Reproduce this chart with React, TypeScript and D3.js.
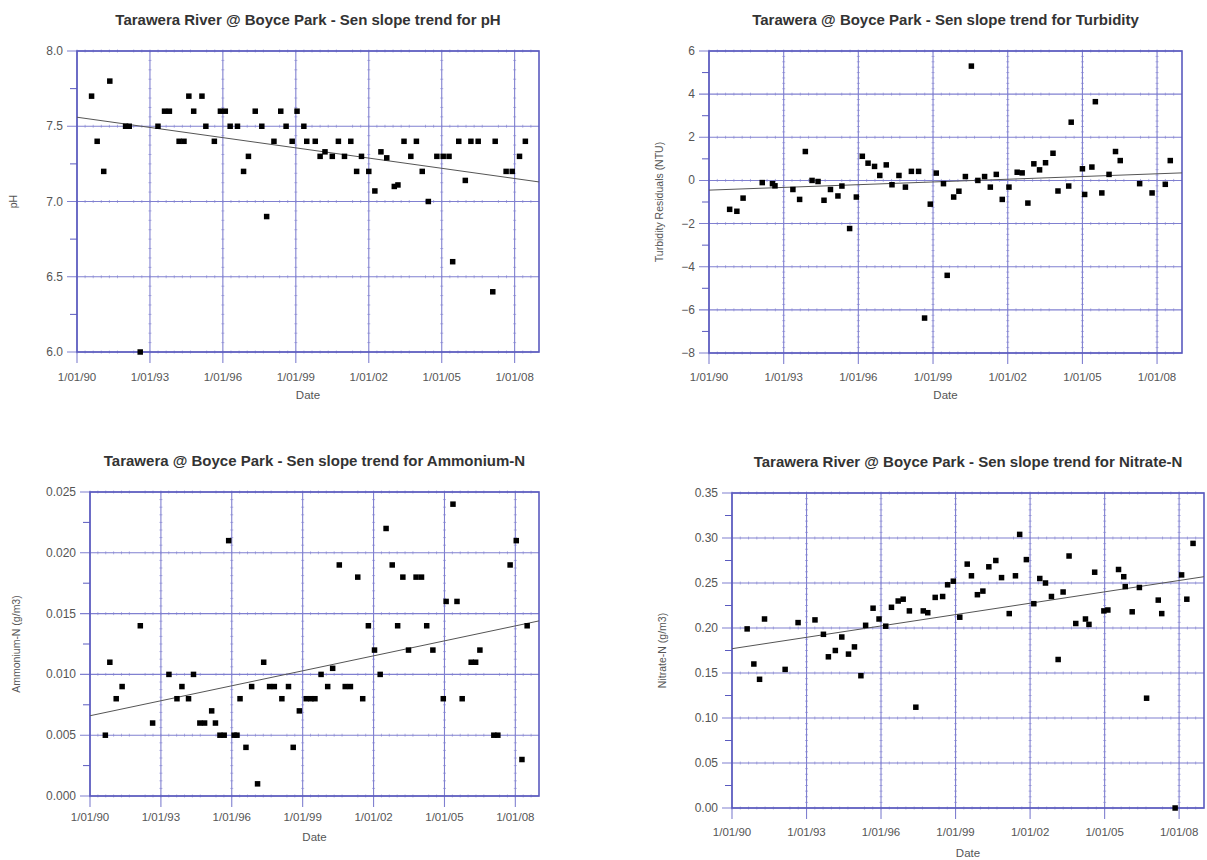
import React, { useRef, useEffect } from "react";
import * as d3 from "d3";

// sample dates as decimal years
const phDates = [1990.6, 1990.83, 1991.1, 1991.35, 1992.0, 1992.15, 1992.6, 1993.33, 1993.6, 1993.8, 1994.2, 1994.4, 1994.6, 1994.8, 1995.14, 1995.3, 1995.65, 1995.9, 1996.1, 1996.3, 1996.6, 1996.85, 1997.05, 1997.33, 1997.6, 1997.8, 1998.1, 1998.38, 1998.6, 1998.85, 1999.05, 1999.33, 1999.45, 1999.8, 2000.0, 2000.2, 2000.5, 2000.75, 2001.0, 2001.26, 2001.5, 2001.7, 2002.0, 2002.25, 2002.5, 2002.74, 2003.05, 2003.2, 2003.45, 2003.73, 2003.96, 2004.2, 2004.45, 2004.8, 2005.06, 2005.3, 2005.45, 2005.7, 2005.97, 2006.2, 2006.5, 2007.1, 2007.2, 2007.65, 2007.9, 2008.2, 2008.44];
const phValues = [7.7, 7.4, 7.2, 7.8, 7.5, 7.5, 6.0, 7.5, 7.6, 7.6, 7.4, 7.4, 7.7, 7.6, 7.7, 7.5, 7.4, 7.6, 7.6, 7.5, 7.5, 7.2, 7.3, 7.6, 7.5, 6.9, 7.4, 7.6, 7.5, 7.4, 7.6, 7.5, 7.4, 7.4, 7.3, 7.33, 7.3, 7.4, 7.3, 7.4, 7.2, 7.3, 7.2, 7.07, 7.33, 7.29, 7.1, 7.11, 7.4, 7.3, 7.4, 7.2, 7.0, 7.3, 7.3, 7.3, 6.6, 7.4, 7.14, 7.4, 7.4, 6.4, 7.4, 7.2, 7.2, 7.3, 7.4];
const phTrend = [7.56, 7.13];

const turbDates = [1990.83, 1991.12, 1991.37, 1992.14, 1992.55, 1992.65, 1993.37, 1993.64, 1993.87, 1994.14, 1994.38, 1994.62, 1994.88, 1995.18, 1995.34, 1995.65, 1995.92, 1996.16, 1996.39, 1996.65, 1996.86, 1997.12, 1997.35, 1997.63, 1997.89, 1998.13, 1998.42, 1998.66, 1998.89, 1999.13, 1999.42, 1999.57, 1999.83, 2000.04, 2000.3, 2000.54, 2000.8, 2001.07, 2001.3, 2001.54, 2001.78, 2002.05, 2002.38, 2002.58, 2002.81, 2003.05, 2003.28, 2003.52, 2003.82, 2004.02, 2004.45, 2004.55, 2005.0, 2005.09, 2005.38, 2005.52, 2005.78, 2006.07, 2006.33, 2006.52, 2007.3, 2007.8, 2008.33, 2008.53];
const turbValues = [-1.34, -1.43, -0.82, -0.1, -0.15, -0.25, -0.42, -0.88, 1.34, 0.0, -0.05, -0.92, -0.42, -0.72, -0.26, -2.23, -0.77, 1.12, 0.8, 0.65, 0.23, 0.72, -0.2, 0.23, -0.31, 0.42, 0.42, -6.38, -1.1, 0.34, -0.15, -4.4, -0.77, -0.5, 0.18, 5.3, 0.0, 0.18, -0.31, 0.28, -0.88, -0.31, 0.38, 0.35, -1.05, 0.77, 0.49, 0.82, 1.26, -0.49, -0.26, 2.7, 0.54, -0.65, 0.62, 3.65, -0.58, 0.28, 1.34, 0.92, -0.15, -0.58, -0.18, 0.92];
const turbTrend = [-0.45, 0.35];

const nh4Dates = [1990.65, 1990.84, 1991.11, 1991.36, 1992.13, 1992.65, 1993.34, 1993.68, 1993.89, 1994.17, 1994.38, 1994.65, 1994.85, 1995.15, 1995.31, 1995.5, 1995.68, 1995.87, 1996.1, 1996.22, 1996.35, 1996.6, 1996.84, 1997.09, 1997.35, 1997.6, 1997.8, 1998.12, 1998.4, 1998.6, 1998.86, 1999.15, 1999.35, 1999.52, 1999.78, 2000.06, 2000.27, 2000.55, 2000.8, 2001.02, 2001.33, 2001.54, 2001.78, 2002.04, 2002.28, 2002.53, 2002.79, 2003.02, 2003.24, 2003.48, 2003.8, 2004.03, 2004.25, 2004.51, 2004.95, 2005.07, 2005.36, 2005.53, 2005.75, 2006.13, 2006.32, 2006.5, 2007.09, 2007.26, 2007.78, 2008.04, 2008.28, 2008.5];
const nh4Values = [0.005, 0.011, 0.008, 0.009, 0.014, 0.006, 0.010, 0.008, 0.009, 0.008, 0.010, 0.006, 0.006, 0.007, 0.006, 0.005, 0.005, 0.021, 0.005, 0.005, 0.008, 0.004, 0.009, 0.001, 0.011, 0.009, 0.009, 0.008, 0.009, 0.004, 0.007, 0.008, 0.008, 0.008, 0.010, 0.009, 0.0105, 0.019, 0.009, 0.009, 0.018, 0.008, 0.014, 0.012, 0.010, 0.022, 0.019, 0.014, 0.018, 0.012, 0.018, 0.018, 0.014, 0.012, 0.008, 0.016, 0.024, 0.016, 0.008, 0.011, 0.011, 0.012, 0.005, 0.005, 0.019, 0.021, 0.003, 0.014];
const nh4Trend = [0.0066, 0.0144];

const no3Dates = [1990.61, 1990.88, 1991.11, 1991.31, 1992.14, 1992.66, 1993.34, 1993.68, 1993.88, 1994.16, 1994.42, 1994.69, 1994.93, 1995.19, 1995.38, 1995.68, 1995.92, 1996.19, 1996.42, 1996.69, 1996.89, 1997.14, 1997.4, 1997.7, 1997.88, 1998.18, 1998.48, 1998.68, 1998.91, 1999.17, 1999.47, 1999.64, 1999.88, 2000.1, 2000.34, 2000.62, 2000.85, 2001.16, 2001.41, 2001.58, 2001.85, 2002.15, 2002.39, 2002.62, 2002.86, 2003.13, 2003.33, 2003.57, 2003.84, 2004.23, 2004.37, 2004.6, 2004.97, 2005.13, 2005.56, 2005.77, 2005.83, 2006.11, 2006.4, 2006.69, 2007.16, 2007.3, 2007.84, 2008.1, 2008.31, 2008.56];
const no3Values = [0.199, 0.160, 0.143, 0.210, 0.154, 0.206, 0.209, 0.193, 0.168, 0.175, 0.190, 0.171, 0.179, 0.147, 0.203, 0.222, 0.210, 0.202, 0.223, 0.230, 0.232, 0.219, 0.112, 0.219, 0.217, 0.234, 0.235, 0.248, 0.252, 0.212, 0.271, 0.258, 0.237, 0.241, 0.268, 0.275, 0.256, 0.216, 0.258, 0.304, 0.276, 0.227, 0.255, 0.250, 0.235, 0.165, 0.240, 0.280, 0.205, 0.210, 0.204, 0.262, 0.219, 0.220, 0.265, 0.257, 0.246, 0.218, 0.245, 0.122, 0.231, 0.216, 0.000, 0.259, 0.232, 0.294];
const no3Trend = [0.177, 0.257];

const xTickYears = [1990, 1993, 1996, 1999, 2002, 2005, 2008];

const startDate = new Date(1990, 0, 1);
const endDate = new Date(2009, 0, 1);

const yearToDate = (v) => {
  const yr = Math.floor(v);
  const a = new Date(yr, 0, 1).getTime();
  const b = new Date(yr + 1, 0, 1).getTime();
  return new Date(a + (v - yr) * (b - a));
};

const panels = [
  {
    title: "Tarawera River @ Boyce Park - Sen slope trend for pH",
    yLabel: "pH", dates: phDates, values: phValues, trend: phTrend,
    yMin: 6, yMax: 8, yStep: 0.5, yFormat: ".1f",
    left: 77, right: 539, top: 51, bottom: 352, yLabelX: 13, tickDy: 29, dateDy: 47, titleY: 25,
  },
  {
    title: "Tarawera @ Boyce Park - Sen slope trend for Turbidity",
    yLabel: "Turbidity Residuals (NTU)", dates: turbDates, values: turbValues, trend: turbTrend,
    yMin: -8, yMax: 6, yStep: 2, yFormat: "d",
    left: 709, right: 1182, top: 51, bottom: 353, yLabelX: 659, tickDy: 28, dateDy: 46, titleY: 25,
  },
  {
    title: "Tarawera @ Boyce Park - Sen slope trend for Ammonium-N",
    yLabel: "Ammonium-N (g/m3)", dates: nh4Dates, values: nh4Values, trend: nh4Trend,
    yMin: 0, yMax: 0.025, yStep: 0.005, yFormat: ".3f",
    left: 90, right: 539, top: 492, bottom: 796, yLabelX: 16, tickDy: 25, dateDy: 45, titleY: 466,
  },
  {
    title: "Tarawera River @ Boyce Park - Sen slope trend for Nitrate-N",
    yLabel: "Nitrate-N (g/m3)", dates: no3Dates, values: no3Values, trend: no3Trend,
    yMin: 0, yMax: 0.35, yStep: 0.05, yFormat: ".2f",
    left: 732, right: 1204, top: 493, bottom: 808, yLabelX: 662, tickDy: 28, dateDy: 49, titleY: 467,
  },
];

const gridColor = "#8080d0";
const axisColor = "#5a5abf";
const fontFamily = "'Liberation Sans', Arial, sans-serif";

function drawPanel(svg, p) {
  const g = svg.append("g");
  const x = d3.scaleTime().domain([startDate, endDate]).range([p.left, p.right]);
  const y = d3.scaleLinear().domain([p.yMin, p.yMax]).range([p.bottom, p.top]);
  const n = Math.round((p.yMax - p.yMin) / p.yStep);
  const yMajor = d3.range(0, n + 1).map((i) => p.yMin + i * p.yStep);
  const yMinor = d3.range(0, n).map((i) => p.yMin + (i + 0.5) * p.yStep);
  const xMajor = xTickYears.map((yr) => new Date(yr, 0, 1));
  const fmtY = d3.format(p.yFormat);
  const fmtX = d3.timeFormat("%-d/%m/%y");

  // small marks along the gridlines
  const subYears = d3.range(0, 19 * 3).map((i) => 1990 + i / 3).filter((v) => Math.abs(v - Math.round(v / 3) * 3) > 0.01);
  const subY = d3.range(1, n * 8).map((i) => p.yMin + (i * p.yStep) / 8).filter((_, i) => (i + 1) % 8 !== 0);

  yMajor.forEach((v) => {
    g.selectAll(null)
      .data(subYears)
      .join("line")
      .attr("x1", (d) => x(yearToDate(d)))
      .attr("x2", (d) => x(yearToDate(d)))
      .attr("y1", y(v) - 1.5)
      .attr("y2", y(v) + 1.5)
      .attr("stroke", gridColor)
      .attr("stroke-opacity", 0.6);
  });
  xMajor.slice(1).forEach((d0) => {
    g.selectAll(null)
      .data(subY)
      .join("line")
      .attr("x1", x(d0) - 1.5)
      .attr("x2", x(d0) + 1.5)
      .attr("y1", (d) => y(d))
      .attr("y2", (d) => y(d))
      .attr("stroke", gridColor)
      .attr("stroke-opacity", 0.6);
  });

  // horizontal gridlines, extending left as ticks
  g.selectAll(null)
    .data(yMajor)
    .join("line")
    .attr("x1", p.left - 10)
    .attr("x2", p.right)
    .attr("y1", (d) => y(d))
    .attr("y2", (d) => y(d))
    .attr("stroke", gridColor)
    .attr("stroke-width", 1.1);

  // vertical gridlines, extending down as ticks
  g.selectAll(null)
    .data(xMajor)
    .join("line")
    .attr("x1", (d) => x(d))
    .attr("x2", (d) => x(d))
    .attr("y1", p.top)
    .attr("y2", p.bottom + 11)
    .attr("stroke", gridColor)
    .attr("stroke-width", 1.1);

  // minor y ticks
  g.selectAll(null)
    .data(yMinor)
    .join("line")
    .attr("x1", p.left - 7)
    .attr("x2", p.left)
    .attr("y1", (d) => y(d))
    .attr("y2", (d) => y(d))
    .attr("stroke", axisColor);

  // frame
  g.append("rect")
    .attr("x", p.left)
    .attr("y", p.top)
    .attr("width", p.right - p.left)
    .attr("height", p.bottom - p.top)
    .attr("fill", "none")
    .attr("stroke", axisColor)
    .attr("stroke-width", 1.6);

  // tick labels
  g.selectAll(null)
    .data(yMajor)
    .join("text")
    .attr("x", p.left - 14)
    .attr("y", (d) => y(d) + 4)
    .attr("text-anchor", "end")
    .attr("font-size", 12)
    .attr("fill", "#555")
    .text((d) => fmtY(d));

  g.selectAll(null)
    .data(xMajor)
    .join("text")
    .attr("x", (d) => x(d))
    .attr("y", p.bottom + p.tickDy)
    .attr("text-anchor", "middle")
    .attr("font-size", 11.5)
    .attr("fill", "#555")
    .text((d) => fmtX(d));

  // trend line
  const line = d3.line().x((d) => x(d[0])).y((d) => y(d[1]));
  g.append("path")
    .attr("d", line([[startDate, p.trend[0]], [endDate, p.trend[1]]]))
    .attr("fill", "none")
    .attr("stroke", "#555")
    .attr("stroke-width", 1);

  // points
  const pts = p.dates.map((d, i) => [yearToDate(d), p.values[i]]);
  g.selectAll(null)
    .data(pts)
    .join("rect")
    .attr("x", (d) => x(d[0]) - 2.75)
    .attr("y", (d) => y(d[1]) - 2.75)
    .attr("width", 5.5)
    .attr("height", 5.5)
    .attr("fill", "#000");

  // titles
  g.append("text")
    .attr("x", (p.left + p.right) / 2)
    .attr("y", p.titleY)
    .attr("text-anchor", "middle")
    .attr("font-size", 15)
    .attr("font-weight", "bold")
    .attr("fill", "#333")
    .text(p.title);

  g.append("text")
    .attr("x", (p.left + p.right) / 2)
    .attr("y", p.bottom + p.dateDy)
    .attr("text-anchor", "middle")
    .attr("font-size", 11.5)
    .attr("fill", "#555")
    .text("Date");

  const cy = (p.top + p.bottom) / 2;
  g.append("text")
    .attr("transform", `translate(${p.yLabelX},${cy}) rotate(-90)`)
    .attr("text-anchor", "middle")
    .attr("dy", "0.35em")
    .attr("font-size", 10.5)
    .attr("fill", "#555")
    .text(p.yLabel);
}

const App = () => {
  const svgRef = useRef(null);

  useEffect(() => {
    const svg = d3.select(svgRef.current);
    svg.selectAll("*").remove();
    svg.append("rect").attr("width", 1207).attr("height", 860).attr("fill", "#fff");
    panels.forEach((p) => drawPanel(svg, p));
  }, []);

  return (
    <div style={{ position: "absolute", left: 0, top: 0 }}>
      <svg ref={svgRef} width={1207} height={860} style={{ display: "block", fontFamily }}></svg>
    </div>
  );
};

export default App;
